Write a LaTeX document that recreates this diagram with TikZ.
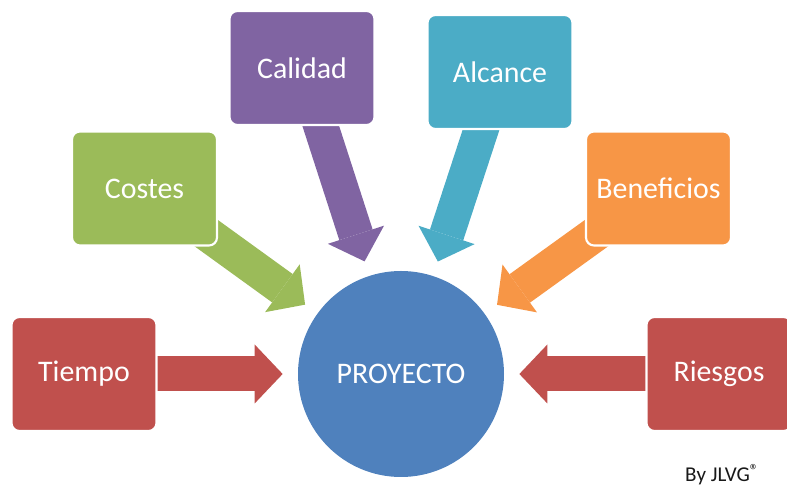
\documentclass[tikz,border=0pt]{standalone}
\usepackage{fontspec}
\setmainfont{Carlito}
\usetikzlibrary{arrows.meta,positioning,backgrounds}
\definecolor{rojo}{HTML}{C0504D}
\definecolor{verde}{HTML}{9BBB59}
\definecolor{morado}{HTML}{8064A2}
\definecolor{turquesa}{HTML}{4BACC6}
\definecolor{naranja}{HTML}{F79646}
\definecolor{azul}{HTML}{4F81BD}
\begin{document}
\begin{tikzpicture}[on grid, font=\fontsize{17pt}{20pt}\selectfont,
    caja/.style={rectangle, rounded corners=0.16cm, draw=white, line width=1.2pt,
      text=white, minimum width=2.9cm, minimum height=2.28cm, inner sep=0pt},
    flecha/.style={line width=0.7cm, shorten >=0.3cm,
      -{Triangle[length=0.56cm, width=1.18cm, line width=0pt]}}]
    \useasboundingbox (-8.02,-2.26) rectangle (7.72,7.48);
    \node[circle, fill=azul, text=white, minimum size=4.12cm] (proyecto) {PROYECTO};
    \node[caja, fill=rojo] [left=6.34cm of proyecto] (tiempo) {Tiempo};
    \node[caja, fill=rojo] [right=6.36cm of proyecto] (riesgos) {Riesgos};
    \node[caja, fill=verde] [above left=3.71cm and 5.13cm of proyecto] (costes) {Costes};
    \node[caja, fill=morado] [above left=6.12cm and 1.98cm of proyecto] (calidad) {Calidad};
    \node[caja, fill=turquesa] [above right=6.04cm and 1.98cm of proyecto] (alcance) {Alcance};
    \node[caja, fill=naranja] [above right=3.71cm and 5.15cm of proyecto] (beneficios) {Beneficios};
    \node[text=black!90, font=\fontsize{12pt}{14pt}\selectfont] (firma) at (6.42,-2.01)
      {By JLVG\raisebox{0.5ex}{\fontsize{10pt}{10pt}\selectfont ®}};
    \begin{scope}[on background layer]
        \path[flecha]
        (tiempo.center) edge[rojo] (proyecto)
        (riesgos.center) edge[rojo] (proyecto)
        (costes.center) edge[verde] (proyecto)
        (calidad.center) edge[morado] (proyecto)
        (alcance.center) edge[turquesa] (proyecto)
        (beneficios.center) edge[naranja] (proyecto);
    \end{scope}
\end{tikzpicture}
\end{document}
